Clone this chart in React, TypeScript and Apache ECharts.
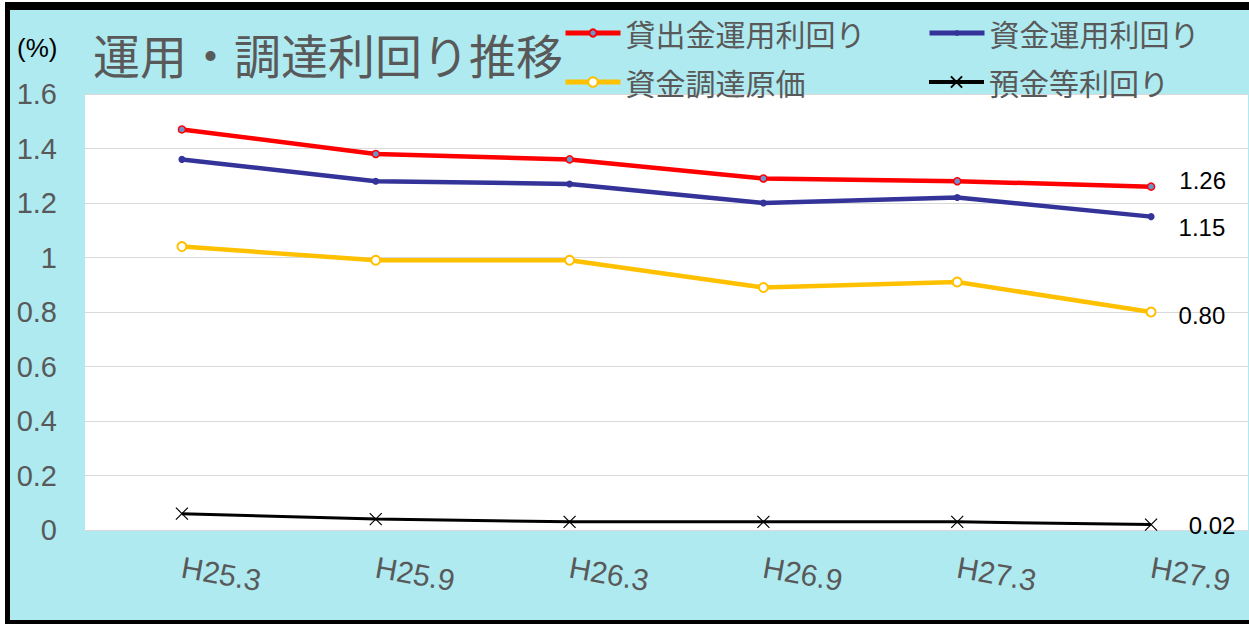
import React, { useEffect, useRef } from "react";
import * as echarts from "echarts";

const categories = ["H25.3", "H25.9", "H26.3", "H26.9", "H27.3", "H27.9"];
const loanYield = [1.47, 1.38, 1.36, 1.29, 1.28, 1.26];
const fundYield = [1.36, 1.28, 1.27, 1.2, 1.22, 1.15];
const fundCost = [1.04, 0.99, 0.99, 0.89, 0.91, 0.8];
const depositYield = [0.06, 0.04, 0.03, 0.03, 0.03, 0.02];
const seriesNames = ["貸出金運用利回り", "資金運用利回り", "資金調達原価", "預金等利回り"];
const lastLabels = ["1.26", "1.15", "0.80", "0.02"];

const CJK = "'Noto Sans CJK JP', 'Noto Sans', sans-serif";
const NUM = "Arial, 'Liberation Sans', sans-serif";
const GRAY = "#595959";
const BG = "#aeeaf0";

function withLastLabel(values: number[], text: string, distance: number, offset: number[]) {
  return values.map((v, i) =>
    i === values.length - 1
      ? {
          value: v,
          label: {
            show: true,
            position: "right",
            distance,
            offset,
            formatter: text,
            color: "#000",
            fontSize: 24,
            fontFamily: NUM,
          },
        }
      : v
  );
}

export default function App() {
  const ref = useRef<HTMLDivElement>(null);
  useEffect(() => {
    document.body.style.margin = "0";
    if (!ref.current) return;
    const chart = echarts.init(ref.current, undefined, { renderer: "svg" });
    const legendBase = {
      itemWidth: 55,
      padding: 0,
      itemGap: 0,
      textStyle: { fontSize: 30, color: GRAY, fontFamily: CJK },
    };
    chart.setOption({
      animation: false,
      backgroundColor: BG,
      title: {
        text: "運用・調達利回り推移",
        left: 93,
        top: 30,
        padding: 0,
        textStyle: { fontSize: 47, color: GRAY, fontFamily: CJK, fontWeight: "normal" },
      },
      legend: [
        { ...legendBase, itemHeight: 9, lineStyle: { width: 5 }, data: [seriesNames[0]], left: 563, top: 18 },
        { ...legendBase, itemHeight: 7, lineStyle: { width: 5 }, data: [seriesNames[1]], left: 927, top: 18 },
        { ...legendBase, itemHeight: 12, lineStyle: { width: 5 }, data: [seriesNames[2]], left: 563, top: 67 },
        { ...legendBase, itemHeight: 14, lineStyle: { width: 4 }, data: [seriesNames[3]], left: 927, top: 67 },
      ],
      graphic: [
        { type: "rect", left: 5, top: 2, shape: { width: 1244, height: 8 }, style: { fill: "#000" } },
        { type: "rect", left: 5, top: 2, shape: { width: 5, height: 622 }, style: { fill: "#000" } },
        { type: "rect", left: 5, top: 620, shape: { width: 1244, height: 4 }, style: { fill: "#000" } },
        { type: "rect", left: 0, top: 0, shape: { width: 5, height: 624 }, style: { fill: "#fff" } },
        { type: "rect", left: 0, top: 0, shape: { width: 1249, height: 2 }, style: { fill: "#fff" } },
        {
          type: "text",
          left: 17,
          top: 35,
          style: { text: "(%)", fontSize: 26, fill: "#000", fontFamily: NUM },
        },
      ],
      grid: {
        left: 85,
        right: 1,
        top: 94,
        bottom: 94,
        show: true,
        backgroundColor: "#fff",
        borderWidth: 0,
      },
      xAxis: {
        type: "category",
        data: categories,
        boundaryGap: true,
        axisLine: { show: true, lineStyle: { color: "#d9d9d9" } },
        axisTick: { show: false },
        axisLabel: {
          rotate: -10,
          margin: 37,
          fontSize: 30,
          color: GRAY,
          fontFamily: NUM,
        },
      },
      yAxis: {
        type: "value",
        min: 0,
        max: 1.6,
        interval: 0.2,
        axisLine: { show: false },
        axisTick: { show: false },
        splitLine: { lineStyle: { color: "#d9d9d9", width: 1 } },
        axisLabel: { fontSize: 29, color: GRAY, fontFamily: NUM, margin: 28 },
      },
      series: [
        {
          name: seriesNames[0],
          type: "line",
          color: "#ff0000",
          data: withLastLabel(loanYield, lastLabels[0], 24, [0, -6]),
          lineStyle: { color: "#ff0000", width: 4.5 },
          symbol: "circle",
          symbolSize: 7,
          itemStyle: { color: "#6b93cc", borderColor: "#ff0000", borderWidth: 1.5 },
          z: 5,
        },
        {
          name: seriesNames[1],
          type: "line",
          color: "#333399",
          data: withLastLabel(fundYield, lastLabels[1], 24, [0, 11]),
          lineStyle: { color: "#333399", width: 4.5 },
          symbol: "circle",
          symbolSize: 7,
          itemStyle: { color: "#333399" },
          z: 4,
        },
        {
          name: seriesNames[2],
          type: "line",
          color: "#ffc000",
          data: withLastLabel(fundCost, lastLabels[2], 22, [0, 3]),
          lineStyle: { color: "#ffc000", width: 4.5 },
          symbol: "circle",
          symbolSize: 9,
          itemStyle: { color: "#ffffff", borderColor: "#ffc000", borderWidth: 2 },
          z: 3,
        },
        {
          name: seriesNames[3],
          type: "line",
          color: "#000000",
          data: withLastLabel(depositYield, lastLabels[3], 31, [0, 1]),
          lineStyle: { color: "#000000", width: 3 },
          symbol: "path://M0,0L10,10M10,0L0,10",
          symbolSize: 12,
          itemStyle: { color: "#000", borderColor: "#000", borderWidth: 1.2 },
          z: 2,
        },
      ],
    });
    return () => chart.dispose();
  }, []);
  return <div ref={ref} style={{ width: 1249, height: 624 }} />;
}
